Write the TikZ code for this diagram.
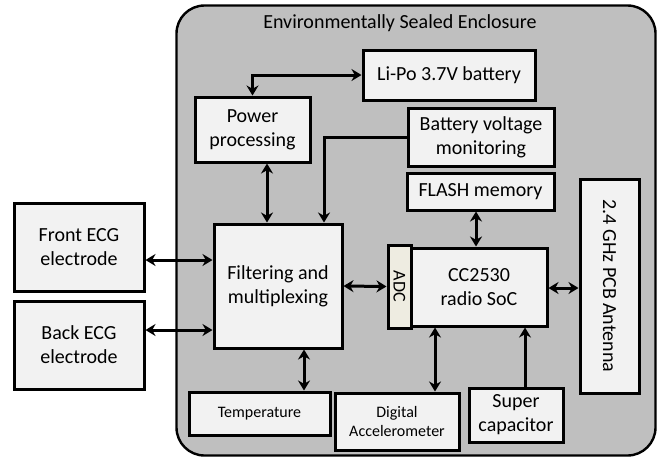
\documentclass[tikz,border=0pt]{standalone}
\usepackage{fontspec}
\setmainfont{Carlito}
\usepackage{tikz}
\usetikzlibrary{arrows.meta}
\definecolor{enclgray}{HTML}{BFBFBF}
\definecolor{boxfill}{HTML}{F2F2F2}
\definecolor{adcfill}{HTML}{EEECE1}
\begin{document}
\begin{tikzpicture}[x=1pt, y=-1pt,
  blk/.style={draw, line width=3pt, fill=boxfill, align=center, inner sep=2pt, font=\fontsize{20}{24}\selectfont},
  smallblk/.style={blk, font=\fontsize{16}{19}\selectfont},
  dbl/.style={line width=3pt, {Stealth[length=10pt,width=12pt]}-{Stealth[length=10pt,width=12pt]}},
  sgl/.style={line width=3pt, -{Stealth[length=10pt,width=12pt]}}]
  \useasboundingbox (0,0) rectangle (661,459);
  % enclosure
  \node[draw, line width=2.4pt, fill=enclgray, rounded corners=28pt, minimum width=479pt, minimum height=450pt] (encl) at (416,230.5) {};
  \node[font=\fontsize{20}{24}\selectfont] (title) at (400,23) {Environmentally Sealed Enclosure};
  % outside electrodes
  \node[blk, minimum width=130pt, minimum height=88pt] (front) at (79,247) {Front ECG\\electrode};
  \node[blk, minimum width=130pt, minimum height=88pt] (back) at (79,345) {Back ECG\\electrode};
  % blocks inside
  \node[blk, minimum width=128pt, minimum height=124pt] (filt) at (278,286) {Filtering and\\multiplexing};
  \node[blk, minimum width=115pt, minimum height=65pt] (power) at (252.5,129.5) {Power\\processing};
  \node[blk, minimum width=172pt, minimum height=50pt] (lipo) at (449,75) {Li-Po 3.7V battery};
  \node[blk, minimum width=146pt, minimum height=58pt] (bvm) at (481,137) {Battery voltage\\monitoring};
  \node[blk, minimum width=147pt, minimum height=37pt] (flash) at (480.5,191.5) {FLASH memory};
  \node[blk, minimum width=136pt, minimum height=78pt] (soc) at (479,287) {CC2530\\radio SoC};
  \node[blk, fill=adcfill, minimum width=23pt, minimum height=83pt, inner sep=0pt] (adc) at (399.5,286.5) {};
  \node[rotate=-90, font=\fontsize{18}{21}\selectfont] (adctext) at (adc.center) {ADC};
  \node[blk, minimum width=59pt, minimum height=214pt] (ant) at (609.5,286) {};
  \node[rotate=-90, font=\fontsize{20}{24}\selectfont] (anttext) at (ant.center) {2.4 GHz PCB Antenna};
  \node[smallblk, minimum width=141pt, minimum height=43pt] (temp) at (259.5,413.5) {Temperature};
  \node[smallblk, minimum width=124pt, minimum height=57pt] (accel) at (397,421.5) {Digital\\Accelerometer};
  \node[blk, minimum width=94pt, minimum height=54pt] (cap) at (516,415) {Super\\capacitor};
  % connections
  \draw[dbl] (front.east |- 0,260) -- (filt.west |- 0,260);
  \draw[dbl] (back.east |- 0,330) -- (filt.west |- 0,330);
  \draw[dbl] (filt.east) -- (adc.west);
  \draw[dbl] (filt.south -| 304,0) -- (temp.north -| 304,0);
  \draw[dbl] (power.south -| 267,0) -- (filt.north -| 267,0);
  \draw[sgl] (bvm.west) -| (filt.north -| 324,0);
  \draw[dbl] (lipo.west) -| (power.north);
  \draw[dbl] (flash.south -| 476,0) -- (soc.north -| 476,0);
  \draw[dbl] (soc.east |- 0,288) -- (ant.west |- 0,288);
  \draw[dbl] (soc.south -| 435,0) -- (accel.north -| 435,0);
  \draw[sgl] (cap.north -| 525,0) -- (soc.south -| 525,0);
\end{tikzpicture}
\end{document}
